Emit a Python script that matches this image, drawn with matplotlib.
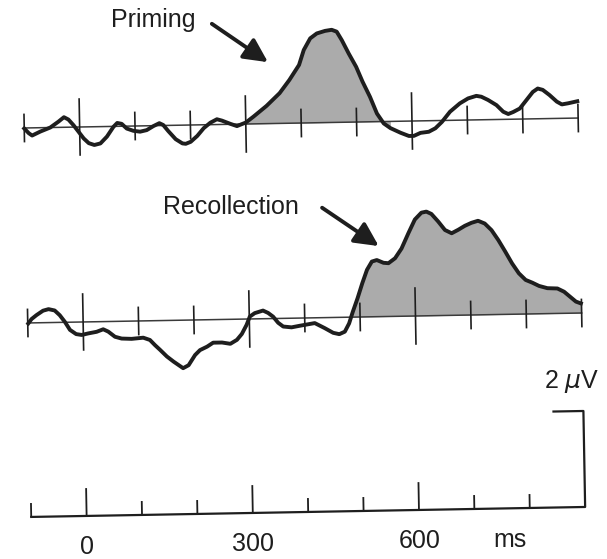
import matplotlib.pyplot as plt
import matplotlib.transforms as mtransforms
import numpy as np

# dane: czas (ms) i amplituda (uV)
priming_t = [-100, -92, -86, -71, -53, -38, -28, -20, -11, -2, 7, 16, 26, 37, 49, 61, 68, 76,
             85, 97, 109, 121, 133, 144, 151, 160, 173, 185, 191, 200, 212, 224, 236, 248,
             257, 272, 284, 293, 300, 314, 338, 362, 380, 398, 407, 419, 431, 446, 458, 467,
             476, 488, 501, 512, 525, 537, 549, 561, 579, 594, 603, 615, 630, 642, 654, 669,
             687, 702, 717, 726, 738, 753, 765, 774, 783, 795, 807, 819, 828, 837, 849, 862,
             871, 882, 899]
priming_v = [-0.01, -0.11, -0.16, -0.08, 0.00, 0.12, 0.21, 0.16, 0.04, -0.10, -0.24, -0.34,
             -0.38, -0.35, -0.21, -0.01, 0.07, 0.05, -0.05, -0.10, -0.12, -0.09, -0.01, 0.05,
             0.01, -0.12, -0.29, -0.38, -0.39, -0.35, -0.23, -0.07, 0.04, 0.11, 0.08, 0.01,
             -0.04, 0.00, 0.03, 0.15, 0.37, 0.63, 0.90, 1.21, 1.52, 1.76, 1.86, 1.91, 1.93,
             1.89, 1.71, 1.43, 1.15, 0.84, 0.52, 0.17, -0.04, -0.14, -0.24, -0.31, -0.31,
             -0.25, -0.23, -0.16, -0.03, 0.18, 0.35, 0.45, 0.50, 0.48, 0.41, 0.30, 0.16, 0.11,
             0.15, 0.22, 0.39, 0.56, 0.63, 0.60, 0.49, 0.35, 0.29, 0.31, 0.35]

recoll_t = [-99, -93, -84, -72, -62, -51, -42, -33, -24, -13, -3, 9, 24, 36, 45, 57, 69, 87,
            108, 120, 129, 138, 150, 162, 179, 189, 201, 210, 223, 234, 250, 265, 277, 286,
            295, 301, 310, 325, 334, 343, 352, 361, 376, 391, 418, 436, 451, 462, 472, 480,
            487, 496, 505, 514, 523, 532, 544, 553, 565, 577, 590, 602, 614, 623, 632, 644,
            656, 668, 680, 692, 704, 716, 728, 740, 752, 764, 776, 788, 800, 812, 824, 839,
            857, 869, 881, 890, 899]
recoll_v = [-0.01, 0.08, 0.16, 0.25, 0.28, 0.25, 0.15, 0.01, -0.16, -0.25, -0.27, -0.24,
            -0.21, -0.16, -0.21, -0.32, -0.36, -0.37, -0.35, -0.40, -0.51, -0.61, -0.75,
            -0.86, -1.00, -0.94, -0.73, -0.63, -0.56, -0.48, -0.48, -0.51, -0.43, -0.31,
            -0.12, 0.05, 0.12, 0.17, 0.12, 0.04, -0.09, -0.17, -0.19, -0.16, -0.11, -0.22,
            -0.32, -0.35, -0.30, -0.13, 0.11, 0.39, 0.70, 0.98, 1.15, 1.18, 1.12, 1.11, 1.21,
            1.41, 1.73, 2.01, 2.15, 2.17, 2.12, 1.96, 1.78, 1.71, 1.78, 1.86, 1.92, 1.96,
            1.90, 1.76, 1.55, 1.31, 1.06, 0.85, 0.71, 0.65, 0.58, 0.53, 0.52, 0.45, 0.33,
            0.24, 0.20]

tick_times = [-100, 0, 100, 200, 300, 400, 500, 600, 700, 800, 900]
major_ticks = [0, 300, 600]
tick_labels = ["0", "300", "600"]
scale_uv = 2

plt.rcParams['font.family'] = ['Liberation Sans', 'DejaVu Sans']

W, H = 607, 559
px_ms = 0.554   # piksele na ms
px_uv = 48      # piksele na uV
tilt = 1.03     # skan jest lekko obrocony

fig = plt.figure(figsize=(W / 100, H / 100), dpi=100)
fig.patch.set_facecolor('white')
rot = mtransforms.Affine2D().rotate_deg_around(W / 2, H / 2, tilt)

ink = '#1e1e1e'


def panel(left, base, ylo, yhi):
    height = (yhi - ylo) * px_uv
    top = base - yhi * px_uv
    ax = fig.add_axes([left / W, 1 - (top + height) / H, 1000 * px_ms / W, height / H])
    ax.set_xlim(-100, 900)
    ax.set_ylim(ylo, yhi)
    ax.axis('off')
    return ax, ax.transData + rot


def baseline(ax, tr):
    tt = np.array(tick_times)
    major = np.isin(tt, major_ticks)
    ax.plot([-100, 900], [0, 0], color='#3a3a3a', lw=1.1, transform=tr, clip_on=False)
    ax.vlines(tt[major], -0.6, 0.6, color=ink, lw=1.2, transform=tr, clip_on=False)
    ax.vlines(tt[~major], -0.3, 0.3, color=ink, lw=1.2, transform=tr, clip_on=False)


arrow_style = dict(arrowstyle='-|>,head_length=0.72,head_width=0.36', mutation_scale=20,
                   lw=2.8, color=ink, shrinkA=0, shrinkB=0)

# gorny przebieg - priming
ax1, tr1 = panel(27, 123, -1.2, 2.6)
t1 = np.array(priming_t)
v1 = np.array(priming_v)
ax1.fill_between(t1, v1, 0, where=(t1 >= 300) & (t1 <= 565), interpolate=True,
                 color='#ababab', lw=0, transform=tr1, clip_on=False)
baseline(ax1, tr1)
ax1.plot(t1, v1, color=ink, lw=2.8, solid_joinstyle='round', transform=tr1, clip_on=False)
ax1.text(136, 2.20, "Priming", fontsize=18, ha='center', va='center', color=ink,
         transform=tr1)
ax1.annotate("", xy=(342, 1.28), xytext=(242, 2.10), xycoords=tr1, textcoords=tr1,
             arrowprops=arrow_style)

# dolny przebieg - recollection
ax2, tr2 = panel(27, 318, -1.6, 2.6)
t2 = np.array(recoll_t)
v2 = np.array(recoll_v)
ax2.fill_between(t2, v2, 0, where=(t2 >= 480), interpolate=True,
                 color='#ababab', lw=0, transform=tr2, clip_on=False)
baseline(ax2, tr2)
ax2.plot(t2, v2, color=ink, lw=2.8, solid_joinstyle='round', transform=tr2, clip_on=False)
ax2.text(271, 2.34, "Recollection", fontsize=18, ha='center', va='center', color=ink,
         transform=tr2)
ax2.annotate("", xy=(536, 1.47), xytext=(435, 2.29), xycoords=tr2, textcoords=tr2,
             arrowprops=arrow_style)

# os czasu i skala
ax3, tr3 = panel(27, 512, -1.0, 2.8)
tt = np.array(tick_times)
major = np.isin(tt, major_ticks)
ax3.plot([-100, 900, 900, 846], [0, 0, scale_uv, scale_uv], color=ink, lw=1.6,
         transform=tr3, clip_on=False)
ax3.vlines(tt[major], 0, 0.58, color=ink, lw=1.3, transform=tr3, clip_on=False)
ax3.vlines(tt[~major & (tt < 900)], 0, 0.29, color=ink, lw=1.3, transform=tr3,
           clip_on=False)
for t, lab in zip(major_ticks, tick_labels):
    ax3.text(t, -0.65, lab, fontsize=18, ha='center', va='center', color=ink,
             transform=tr3)
ax3.text(763, -0.67, "ms", fontsize=18, ha='center', va='center', color=ink, transform=tr3)
ax3.text(880, 2.61, r"2 $\mu$V", fontsize=18, ha='center', va='center', color=ink,
         transform=tr3)

fig.savefig('out.png', dpi=100)
